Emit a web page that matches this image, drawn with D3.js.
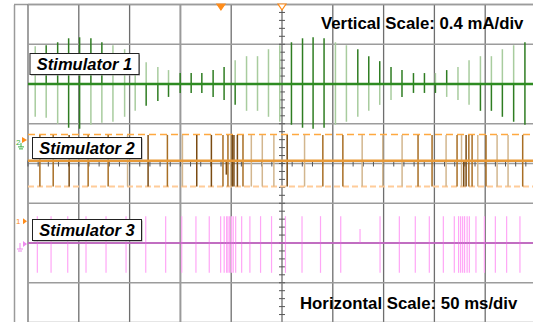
<!DOCTYPE html>
<html><head><meta charset="utf-8">
<script src="https://cdn.jsdelivr.net/npm/d3@7"></script>
<style>body{margin:0;background:#fff}svg{display:block}</style>
</head><body><svg id="c" width="533" height="322"></svg>
<script>
// ---- data ----
const timeTicks = [-250,-200,-150,-100,-50,0,50,100,150,200,250]; // ms
const divTicks = [-4,-3,-2,-1,0,1,2,3,4];
const channelNames = ["Stimulator 1","Stimulator 2","Stimulator 3"];
const scaleTexts = ["Vertical Scale: 0.4 mA/div","Horizontal Scale: 50 ms/div"];
// Stimulator 1 (ms, mA)
const s1Times = [-242.9,-232.1,-220.8,-210.0,-199.2,-188.1,-177.3,-166.4,-154.9,-144.5,-133.7,-122.2,-111.7,-100.2,-89.4,-78.9,-67.8,-57.0,-46.1,-34.9,-24.1,-13.3,-2.2,9.3,20.2,30.6,41.4,52.6,63.4,74.6,85.4,96.2,107.3,118.1,129.4,140.2,151.0,162.1,173.2,184.1,195.3,206.1,216.9,228.0,239.1];
const s1Up   = [0.38,0.39,0.42,0.46,0.47,0.46,0.42,0.39,0.35,0.27,0.22,0.17,0.14,0.11,0.11,0.11,0.14,0.17,0.24,0.28,0.28,0.35,0.39,0.42,0.46,0.47,0.46,0.42,0.39,0.35,0.28,0.23,0.17,0.14,0.11,0.11,0.11,0.14,0.17,0.24,0.28,0.28,0.35,0.39,0.42];
const s1Down = [0.33,0.34,0.40,0.44,0.45,0.41,0.39,0.38,0.33,0.27,0.22,0.17,0.13,0.09,0.09,0.09,0.13,0.16,0.21,0.27,0.27,0.33,0.38,0.41,0.44,0.45,0.44,0.41,0.38,0.33,0.27,0.21,0.16,0.13,0.09,0.09,0.09,0.13,0.16,0.21,0.27,0.27,0.33,0.38,0.41];
const s1UpDark   = [0,1,1,1,1,1,1,0,0,0,0,0,0,1,1,1,1,1,0,0,0,0,0,1,1,1,1,0,0,1,1,1,1,1,1,1,0,1,0,0,0,0,0,0,1];
const s1DownDark = [0,0,0,1,1,0,0,0,0,0,1,1,1,1,1,1,1,1,1,0,0,0,0,1,1,1,1,0,0,0,0,0,0,1,1,1,1,0,0,0,1,1,1,1,1];
// Stimulator 2 (ms, mA, shade 0 light / 1 medium / 2 dark)
const s2Times = [-238.3,-225.2,-209.5,-190.8,-171.1,-152.0,-131.8,-112.8,-98.0,-83.9,-69.5,-58.1,-54.8,-53.2,-50.5,-48.9,-47.3,-43.9,-38.4,-30.2,-19.4,-8.0,5.1,22.2,40.2,59.9,78.9,99.2,118.2,133.9,147.7,161.5,172.3,176.7,178.9,181.2,183.9,187.1,192.7,200.8,211.7,222.5,236.9];
const s2Up   = [0.26,0.26,0.26,0.26,0.26,0.26,0.26,0.26,0.26,0.26,0.26,0.26,0.00,0.26,0.26,0.26,0.26,0.26,0.26,0.26,0.26,0.26,0.26,0.26,0.26,0.26,0.26,0.26,0.26,0.26,0.26,0.26,0.26,0.26,0.00,0.26,0.26,0.26,0.26,0.26,0.26,0.26,0.26];
const s2Down = [0.26,0.26,0.26,0.26,0.26,0.26,0.26,0.26,0.26,0.26,0.26,0.26,0.14,0.26,0.26,0.26,0.26,0.26,0.26,0.26,0.26,0.26,0.26,0.26,0.26,0.26,0.26,0.26,0.26,0.26,0.26,0.26,0.26,0.26,0.26,0.26,0.26,0.26,0.26,0.26,0.26,0.26,0.26];
const s2Shade = [1,1,2,1,1,0,2,1,0,2,2,1,2,1,0,2,2,2,1,0,0,0,2,0,1,1,0,0,0,1,1,0,1,0,2,2,1,1,0,1,0,0,1];
// Stimulator 3 (ms, mA)
const s3Times = [-240.8,-227.3,-210.9,-192.9,-173.2,-153.5,-134.1,-114.5,-98.7,-84.7,-71.6,-60.4,-56.9,-54.5,-53.2,-51.5,-49.6,-48.0,-45.6,-39.7,-31.6,-21.1,-10.3,3.4,19.7,37.9,57.8,76.8,96.5,115.5,131.2,145.0,158.8,169.6,173.8,175.8,177.8,179.7,182.2,184.4,190.9,199.2,210.0,221.1,234.2];
const s3Up   = [0.27,0.27,0.27,0.27,0.27,0.27,0.27,0.27,0.27,0.27,0.27,0.27,0.27,0.27,0.27,0.27,0.27,0.27,0.27,0.27,0.27,0.27,0.27,0.27,0.27,0.27,0.27,0.14,0.27,0.27,0.27,0.27,0.27,0.27,0.27,0.27,0.27,0.27,0.27,0.27,0.27,0.27,0.27,0.27,0.27];
const s3Down = [0.30,0.30,0.30,0.30,0.30,0.30,0.30,0.30,0.30,0.30,0.30,0.30,0.30,0.30,0.30,0.30,0.30,0.30,0.30,0.30,0.30,0.30,0.30,0.30,0.30,0.30,0.30,0.00,0.30,0.30,0.30,0.30,0.30,0.30,0.30,0.30,0.30,0.30,0.30,0.30,0.30,0.30,0.30,0.30,0.30];
const channelOffsets = [2, 0.07, -2]; // divisions
const mAperDiv = 0.4;

// ---- drawing ----
const svg = d3.select("#c");
const x = d3.scaleLinear().domain([-250,250]).range([28,536]);
const y = d3.scaleLinear().domain([-4,4]).range([322.5,4.5]);
const yc = (ch, mA) => y(channelOffsets[ch] + mA / mAperDiv);

// outer frame
svg.append("line").attr("x1",14.5).attr("x2",14.5).attr("y1",5).attr("y2",322).attr("stroke","#9a9a9a").attr("stroke-width",1.5);
svg.append("line").attr("x1",14).attr("x2",533).attr("y1",y(4)).attr("y2",y(4)).attr("stroke","#9a9a9a").attr("stroke-width",1.5);

// grid
svg.append("g").selectAll("line").data(timeTicks).join("line")
  .attr("x1",d=>x(d)).attr("x2",d=>x(d)).attr("y1",y(4)).attr("y2",y(-4))
  .attr("stroke",d=>d===-100?"#9a9a9a":"#6e6e6e").attr("stroke-width",d=>d===-100?2:1.3);
svg.append("g").selectAll("line").data(divTicks).join("line")
  .attr("x1",x(-250)).attr("x2",533).attr("y1",d=>y(d)).attr("y2",d=>y(d))
  .attr("stroke","#9c9c9c").attr("stroke-width",1.6);

// center axes minor ticks
const minorV = d3.range(-20,21).map(i=>i/5);
svg.append("g").selectAll("line").data(minorV).join("line")
  .attr("x1",x(0)-3).attr("x2",x(0)+3).attr("y1",d=>y(d)).attr("y2",d=>y(d))
  .attr("stroke","#555").attr("stroke-width",1);
const minorH = d3.range(-25,26).map(i=>i*10);
svg.append("g").selectAll("line").data(minorH).join("line")
  .attr("x1",d=>x(d)).attr("x2",d=>x(d)).attr("y1",y(0)-3).attr("y2",y(0)+3)
  .attr("stroke","#555").attr("stroke-width",1);

// ---- Stimulator 2 cursors ----
svg.append("line").attr("x1",x(-250)).attr("x2",533).attr("y1",yc(1,0.265)).attr("y2",yc(1,0.265))
  .attr("stroke","#ffa940").attr("stroke-width",1.5).attr("stroke-dasharray","7,4");
svg.append("line").attr("x1",x(-250)).attr("x2",533).attr("y1",yc(1,-0.26)).attr("y2",yc(1,-0.26))
  .attr("stroke","#ffcc99").attr("stroke-width",2).attr("stroke-dasharray","6,3");

// ---- Stimulator 1 ----
const g1 = svg.append("g");
const greenDark = "#2f7d22", greenLight = "#a8cc9e";
s1Times.forEach((t,i)=>{
  g1.append("line").attr("x1",x(t)).attr("x2",x(t)).attr("y1",yc(0,0)).attr("y2",yc(0,s1Up[i]))
    .attr("stroke",s1UpDark[i]?greenDark:greenLight).attr("stroke-width",1.5);
  g1.append("line").attr("x1",x(t)).attr("x2",x(t)).attr("y1",yc(0,0)).attr("y2",yc(0,-s1Down[i]))
    .attr("stroke",s1DownDark[i]?greenDark:greenLight).attr("stroke-width",1.5);
});
g1.append("line").attr("x1",x(-250)).attr("x2",533).attr("y1",yc(0,0)).attr("y2",yc(0,0))
  .attr("stroke","#2e8b22").attr("stroke-width",2.5);

// ---- Stimulator 2 ----
const g2 = svg.append("g");
const orangeShades = ["#d2b68e","#a86e24","#7a4b12"];
s2Times.forEach((t,i)=>{
  g2.append("line").attr("x1",x(t)).attr("x2",x(t)).attr("y1",yc(1,s2Up[i])).attr("y2",yc(1,-s2Down[i]))
    .attr("stroke",orangeShades[s2Shade[i]]).attr("stroke-width",1.5);
});
g2.append("line").attr("x1",x(-250)).attr("x2",533).attr("y1",yc(1,0)).attr("y2",yc(1,0))
  .attr("stroke","#e89a38").attr("stroke-width",2.5);

// ---- Stimulator 3 ----
const g3 = svg.append("g");
s3Times.forEach((t,i)=>{
  g3.append("line").attr("x1",x(t)).attr("x2",x(t)).attr("y1",yc(2,s3Up[i])).attr("y2",yc(2,-s3Down[i]))
    .attr("stroke","#ffa6f6").attr("stroke-width",1.2);
});
g3.append("line").attr("x1",x(-250)).attr("x2",533).attr("y1",yc(2,0)).attr("y2",yc(2,0))
  .attr("stroke","#c657c6").attr("stroke-width",1.5);

// ---- markers ----
const tri = (cx, cy, filled) => svg.append("path")
  .attr("d",`M${cx-4},${cy} L${cx+4},${cy} L${cx},${cy+6} Z`)
  .attr("fill",filled?"#ff8c1a":"#fff").attr("stroke","#ff8c1a").attr("stroke-width",1.2);
tri(x(-60.1), 4, true);
tri(x(0), 4, false);
// channel ground markers
svg.append("text").attr("x",16).attr("y",yc(1,0.26)+10).attr("font-family","Liberation Sans, Arial").attr("font-size",8).attr("fill","#3cb043").text("2");
svg.append("path").attr("d",`M22,${yc(1,0.26)+2} l5,3 l-5,3 Z`).attr("fill","#ff8c1a");
svg.append("path").attr("d",`M21,${yc(1,0.26)+8} v4 m-3,0 h6 m-5,2 h4`).attr("stroke","#3cb043").attr("fill","none").attr("stroke-width",1);
svg.append("text").attr("x",16).attr("y",yc(2,0.27)+8).attr("font-family","Liberation Sans, Arial").attr("font-size",8).attr("fill","#ff8c1a").text("1");
svg.append("path").attr("d",`M23,${yc(2,0.27)+2} l4,3 l-4,3 Z`).attr("fill","#ff8c1a");
svg.append("path").attr("d",`M23,${yc(2,0)-2} l4,3 l-4,3 Z`).attr("fill","#ee88ee");
svg.append("path").attr("d",`M20,${yc(2,0)} v6 m-3,0 h6 m-5,2 h4`).attr("stroke","#ee88ee").attr("fill","none").attr("stroke-width",1);

// ---- labels ----
const labelBoxes = [{ch:0, x0:30, y0:53.5},{ch:1, x0:32.5, y0:137.5},{ch:2, x0:32.5, y0:219.5}];
labelBoxes.forEach(b=>{
  svg.append("rect").attr("x",b.x0+1).attr("y",b.y0+1).attr("width",109).attr("height",21).attr("fill","#999");
  svg.append("rect").attr("x",b.x0).attr("y",b.y0).attr("width",109).attr("height",21)
    .attr("fill","#fff").attr("stroke","#222").attr("stroke-width",1);
  svg.append("text").attr("x",b.x0+54.5).attr("y",b.y0+16.2).attr("text-anchor","middle")
    .attr("font-family","Liberation Sans, Arial, sans-serif").attr("font-weight","bold").attr("font-style","italic")
    .attr("font-size",16.5).attr("fill","#000").text(channelNames[b.ch]);
});
svg.append("text").attr("x",321).attr("y",28.5).attr("font-family","Liberation Sans, Arial, sans-serif")
  .attr("font-weight","bold").attr("font-size",16.8).attr("fill","#000").text(scaleTexts[0]);
svg.append("text").attr("x",300).attr("y",309).attr("font-family","Liberation Sans, Arial, sans-serif")
  .attr("font-weight","bold").attr("font-size",16.8).attr("fill","#000").text(scaleTexts[1]);
</script></body></html>
